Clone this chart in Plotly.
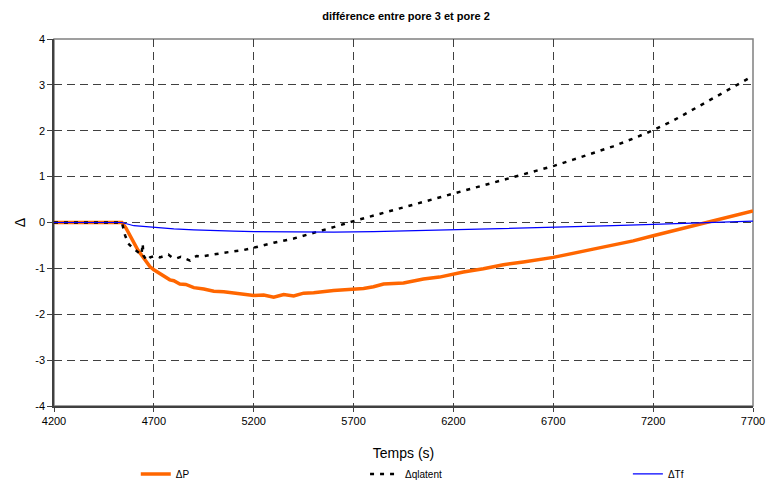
import plotly.graph_objects as go

# ---- data ----
t_p = [4200, 4540, 4560, 4580, 4600, 4620, 4640, 4660, 4680, 4700, 4730, 4760, 4780,
       4800, 4830, 4860, 4900, 4950, 5000, 5050, 5100, 5150, 5200, 5250, 5300, 5350, 5400,
       5450, 5500, 5600, 5700, 5750, 5800, 5850, 5950, 6050, 6130, 6200, 6250, 6350, 6450,
       6550, 6700, 6900, 7100, 7200, 7300, 7400, 7500, 7600, 7700]
dP = [0, 0, -0.12, -0.28, -0.45, -0.6, -0.72, -0.84, -0.96, -1.03, -1.12, -1.19, -1.25,
      -1.27, -1.34, -1.35, -1.42, -1.45, -1.5, -1.51, -1.54, -1.56, -1.59, -1.58, -1.63, -1.57,
      -1.6, -1.54, -1.53, -1.48, -1.45, -1.44, -1.40, -1.34, -1.32, -1.23, -1.19, -1.12, -1.08,
      -1.01, -0.92, -0.86, -0.76, -0.58, -0.40, -0.29, -0.18, -0.08, 0.03, 0.14, 0.25]

t_q = [4200, 4540, 4556, 4572, 4597, 4622, 4638, 4644, 4648, 4664, 4681, 4697, 4714, 4730,
       4748, 4773, 4790, 4814, 4835, 4856, 4881, 4900, 4914, 4940, 4964, 4990, 5014, 5050,
       5100, 5150, 5200, 5300, 5400, 5500, 5600, 5700, 5800, 5900, 6000, 6100, 6200, 6300,
       6400, 6500, 6600, 6700, 6800, 6900, 7000, 7100, 7200, 7300, 7400, 7500, 7600, 7690]
dq = [0, 0, -0.28, -0.46, -0.57, -0.65, -0.70, -0.46, -0.72, -0.83, -0.76, -0.74, -0.73, -0.76,
      -0.74, -0.70, -0.76, -0.78, -0.75, -0.78, -0.83, -0.76, -0.73, -0.74, -0.72, -0.70, -0.68,
      -0.66, -0.63, -0.6, -0.55, -0.44, -0.35, -0.23, -0.1, 0.03, 0.15, 0.27, 0.39, 0.51, 0.63,
      0.75, 0.87, 0.99, 1.11, 1.23, 1.37, 1.51, 1.66, 1.83, 2.01, 2.22, 2.46, 2.71, 2.95, 3.17]

t_t = [4200, 4540, 4600, 4700, 4800, 4900, 5000, 5100, 5200, 5400, 5600, 5800, 6000, 6200,
       6400, 6600, 6800, 7000, 7200, 7400, 7600, 7700]
dT = [0, 0, -0.07, -0.11, -0.14, -0.16, -0.18, -0.19, -0.2, -0.21, -0.21, -0.2, -0.18, -0.15,
      -0.13, -0.11, -0.09, -0.07, -0.04, -0.01, 0.02, 0.03]

x_ticks = [4200, 4700, 5200, 5700, 6200, 6700, 7200, 7700]
y_ticks = [-4, -3, -2, -1, 0, 1, 2, 3, 4]

FONT = "Arial, Liberation Sans, sans-serif"
W, H = 766, 474  # page body has an 8px margin

fig = go.Figure()
fig.add_trace(go.Scatter(x=t_p, y=dP, mode="lines", name="ΔP", showlegend=True,
                         line=dict(color="#FF6600", width=3.5), legend="legend"))
fig.add_trace(go.Scatter(x=t_q, y=dq, mode="lines", name="Δqlatent", showlegend=True,
                         line=dict(color="#000000", width=2.5, dash="4px,6px"), legend="legend2"))
fig.add_trace(go.Scatter(x=t_t, y=dT, mode="lines", name="ΔTf", showlegend=True,
                         line=dict(color="#0000FF", width=1.2), legend="legend3"))

leg_common = dict(orientation="h", yanchor="middle", xanchor="left", y=-0.185,
                  font=dict(family=FONT, size=10, color="#000"), bgcolor="rgba(0,0,0,0)",
                  itemwidth=30)

fig.update_layout(
    width=W, height=H,
    showlegend=True,
    margin=dict(l=46, r=21, t=31, b=76, autoexpand=False),
    paper_bgcolor="white", plot_bgcolor="white",
    font=dict(family=FONT, size=11, color="#000"),
    title=dict(text="<b>différence entre pore 3 et pore 2</b>", x=398 / W,
               xanchor="center", y=1 - 8 / H, yanchor="middle",
               font=dict(family=FONT, size=11, color="#000")),
    legend=dict(x=0.117, **leg_common),
    legend2=dict(x=0.445, **leg_common),
    legend3=dict(x=0.821, **leg_common),
    xaxis=dict(range=[4200, 7700], tickvals=x_ticks, ticktext=[str(v) for v in x_ticks],
               showgrid=True, gridcolor="#404040", griddash="8px,5px", gridwidth=1,
               showline=True, linecolor="#404040", linewidth=1.5,
               ticks="outside", ticklen=4, tickcolor="#404040", automargin=False,
               tickfont=dict(family=FONT, size=11, color="#000"),
               title=dict(text="Temps (s)", font=dict(family=FONT, size=14, color="#000"), standoff=22),
               zeroline=False),
    yaxis=dict(range=[-4, 4], tickvals=y_ticks, ticktext=[str(v) for v in y_ticks],
               showgrid=True, gridcolor="#404040", griddash="8px,5px", gridwidth=1,
               showline=True, linecolor="#404040", linewidth=1.5,
               ticks="outside", ticklen=5, tickcolor="#404040", automargin=False,
               tickfont=dict(family=FONT, size=11, color="#000"),
               title=dict(text="Δ", font=dict(family=FONT, size=14, color="#000"), standoff=6),
               zeroline=False),
    shapes=[dict(type="rect", xref="paper", yref="paper", x0=0, x1=1, y0=0, y1=1,
                 line=dict(color="#808080", width=1.5), fillcolor="rgba(0,0,0,0)", layer="below")],
)

fig.write_html("out.html")
